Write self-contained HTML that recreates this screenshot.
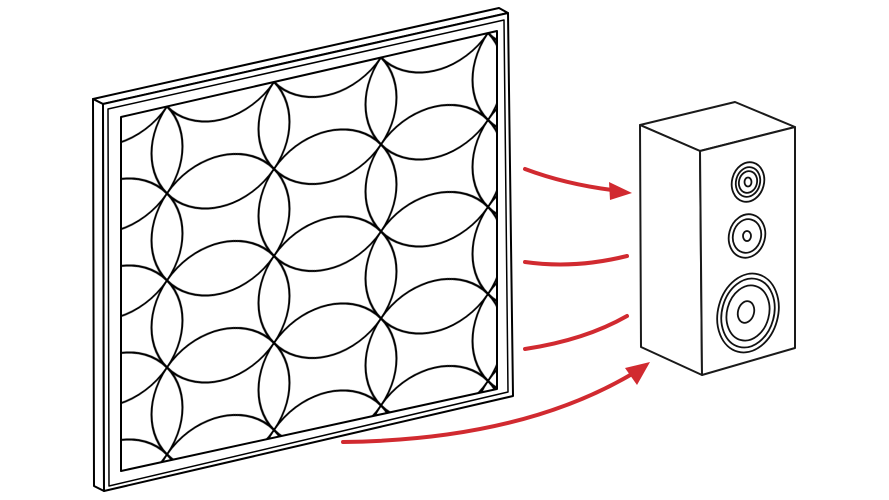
<!DOCTYPE html>
<html><head><meta charset="utf-8"><style>
html,body{margin:0;padding:0;background:#fff;width:889px;height:500px;overflow:hidden}
svg{display:block}
</style></head><body>
<svg width="889" height="500" viewBox="0 0 889 500" xmlns="http://www.w3.org/2000/svg" style="overflow:hidden">
<defs>
<pattern id="pt" patternUnits="userSpaceOnUse" width="107" height="87" x="-7.5" y="-43.5">
<g fill="none" stroke="#000" stroke-width="2">
<circle cx="0" cy="0" r="69"/><circle cx="107" cy="0" r="69"/><circle cx="0" cy="87" r="69"/><circle cx="107" cy="87" r="69"/>
</g>
</pattern>
<clipPath id="cp"><polygon points="121,117 497,31 497,389 121,471"/></clipPath>
</defs>
<g fill="none" stroke="#000" stroke-width="2" stroke-linejoin="round">
<polygon points="93,99 499,8 508,13 103,104" fill="#fff"/>
<polygon points="93,99 103,104 104,491 94,486" fill="#fff"/>
<polygon points="103,104 508,13 513,396 104,491" fill="#fff"/>
<polygon points="108,109 504,20 508,392 109,486" stroke-width="1.5"/>
<polygon points="121,117 497,31 497,389 121,471" stroke-width="2"/>
</g>
<g clip-path="url(#cp)">
<rect x="0" y="0" width="380" height="362" fill="url(#pt)" transform="matrix(1,-0.229,0,1,121,117)"/>
</g>
<g fill="#fff" stroke="#1a1a1a" stroke-width="2" stroke-linejoin="round">
<polygon points="640,125 735,102 795,127 700,151"/>
<polygon points="640,125 700,151 702,375 641,347"/>
<polygon points="700,151 795,127 795,348 702,375"/>
</g>
<g fill="none" stroke="#111" stroke-width="1.8">
<ellipse cx="748" cy="182" rx="16" ry="20" transform="rotate(15 748 182)"/>
<ellipse cx="748" cy="182" rx="12" ry="15" transform="rotate(15 748 182)"/>
<ellipse cx="748" cy="182" rx="9" ry="11" transform="rotate(15 748 182)"/>
<ellipse cx="748" cy="182" rx="3.5" ry="4.5"/>
<ellipse cx="747" cy="236" rx="18" ry="22" transform="rotate(15 747 236)"/>
<ellipse cx="747" cy="236" rx="14" ry="17" transform="rotate(15 747 236)"/>
<ellipse cx="747" cy="236" rx="4" ry="5"/>
<ellipse cx="748" cy="313" rx="30" ry="40" transform="rotate(15 748 313)"/>
<ellipse cx="748" cy="313" rx="26" ry="35" transform="rotate(15 748 313)"/>
<ellipse cx="748" cy="313" rx="21" ry="28" transform="rotate(15 748 313)"/>
<ellipse cx="746" cy="312" rx="8" ry="11" transform="rotate(15 746 312)"/>
</g>
<g fill="none" stroke="#d12a30" stroke-width="4" stroke-linecap="round">
<path d="M525,169 Q565,184 612,190"/>
<path d="M525,262 Q575,269 627,256"/>
<path d="M525,349 Q585,340 627,316"/>
<path d="M343,442 Q520,440 632,374"/>
</g>
<g fill="#d12a30">
<polygon points="632,193 609,182 610,200"/>
<polygon points="650,362 625,368 637,385"/>
</g>
</svg>
</body></html>
